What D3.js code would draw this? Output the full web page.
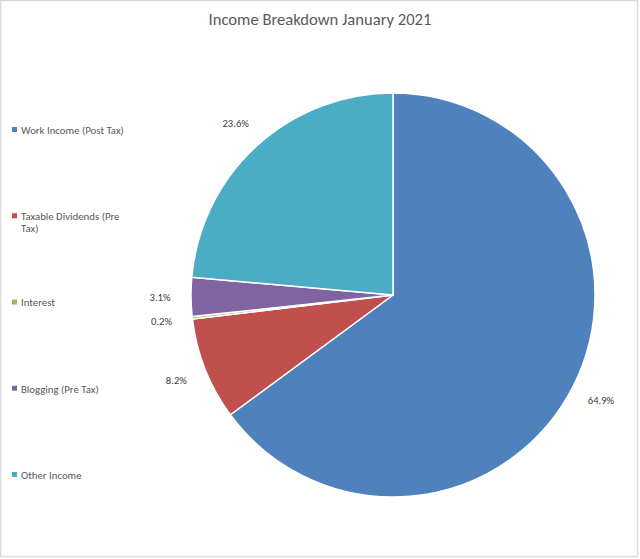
<!DOCTYPE html>
<html><head><meta charset="utf-8">
<script src="https://cdn.jsdelivr.net/npm/d3@7"></script>
<style>body{margin:0;background:#fff}svg{display:block}</style>
</head><body>
<script>
const categories = ["Work Income (Post Tax)", "Taxable Dividends (Pre Tax)", "Interest", "Blogging (Pre Tax)", "Other Income"];
const values = [64.9, 8.2, 0.2, 3.1, 23.6];
const colors = ["#4F81BD", "#C0504D", "#9BBB59", "#8064A2", "#4BACC6"];
const legendLines = [["Work Income (Post Tax)"], ["Taxable Dividends (Pre", "Tax)"], ["Interest"], ["Blogging (Pre Tax)"], ["Other Income"]];

const W = 640, H = 559;
const svg = d3.select("body").append("svg").attr("width", W).attr("height", H);
svg.append("rect").attr("x", 0.5).attr("y", 0.5).attr("width", W - 3).attr("height", H - 3)
  .attr("fill", "#fff").attr("stroke", "#d9d9d9").attr("stroke-width", 1.5);

const font = "Carlito, 'Open Sans', 'Noto Sans', sans-serif";
svg.append("text").attr("x", 320).attr("y", 25).attr("text-anchor", "middle")
  .attr("font-family", font).attr("font-size", 16.6).attr("fill", "#595959")
  .text("Income Breakdown January 2021");

const cx = 393, cy = 295, r = 202;
const pie = d3.pie().sort(null).value(d => d)(values);
const arc = d3.arc().innerRadius(0).outerRadius(r);
const g = svg.append("g").attr("transform", `translate(${cx},${cy})`);
g.selectAll("path").data(pie).join("path")
  .attr("d", arc).attr("fill", (d, i) => colors[i])
  .attr("stroke", "#fff").attr("stroke-width", 1.5).attr("stroke-linejoin", "round");

const labelArc = d3.arc().innerRadius(233).outerRadius(233);
g.selectAll("text.lbl").data(pie).join("text").attr("class", "lbl")
  .attr("transform", d => { const c = labelArc.centroid(d); return `translate(${c[0]},${c[1]})`; })
  .attr("text-anchor", "middle").attr("dy", "0.35em")
  .attr("font-family", font).attr("font-size", 10.6).attr("fill", "#404040")
  .text(d => d.data.toFixed(1) + "%");

const ly = d3.scalePoint().domain(categories).range([130, 475]);
const lg = svg.append("g");
categories.forEach((c, i) => {
  const y = ly(c);
  lg.append("rect").attr("x", 12).attr("y", y - 3).attr("width", 5).attr("height", 5).attr("fill", colors[i]);
  const t = lg.append("text").attr("x", 21).attr("y", y)
    .attr("font-family", font).attr("font-size", 10.8).attr("fill", "#595959");
  legendLines[i].forEach((line, j) => {
    t.append("tspan").attr("x", 21).attr("dy", j === 0 ? "0.35em" : "1.15em").text(line);
  });
});
</script>
</body></html>
